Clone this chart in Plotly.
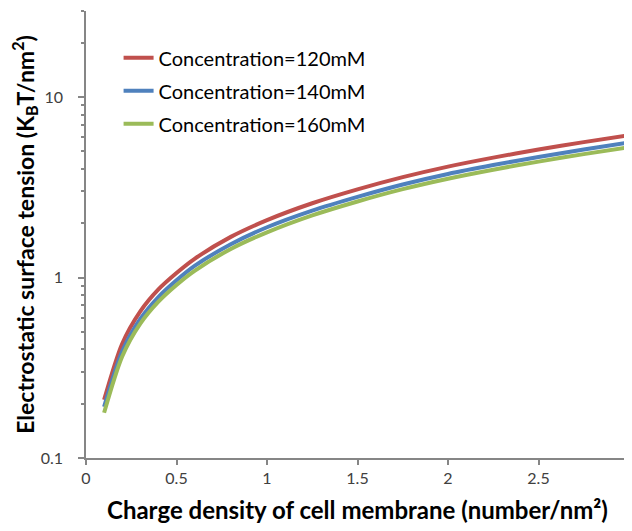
import plotly.graph_objects as go

charge_density = [0.1, 0.2, 0.3, 0.4, 0.5, 0.6, 0.8, 1.0, 1.25, 1.5, 1.75, 2.0, 2.25, 2.5, 2.75, 3.0]
tension_120mM = [0.21, 0.43, 0.65, 0.86, 1.06, 1.27, 1.68, 2.08, 2.58, 3.08, 3.6, 4.12, 4.62, 5.12, 5.63, 6.15]
tension_140mM = [0.192, 0.39, 0.59, 0.78, 0.965, 1.16, 1.53, 1.9, 2.35, 2.8, 3.28, 3.75, 4.2, 4.66, 5.12, 5.6]
tension_160mM = [0.178, 0.365, 0.555, 0.735, 0.91, 1.09, 1.44, 1.78, 2.21, 2.64, 3.09, 3.53, 3.96, 4.39, 4.83, 5.28]

series_names = ["Concentration=120mM", "Concentration=140mM", "Concentration=160mM"]
series_colors = ["#C0504D", "#4F81BD", "#9BBB59"]

x_ticks = [0, 0.5, 1, 1.5, 2, 2.5, 3]
x_tick_labels = ["0", "0.5", "1", "1.5", "2", "2.5", "3"]
y_ticks = [0.1, 1, 10]
y_tick_labels = ["0.1", "1", "10"]
y_minor = [0.2, 0.3, 0.4, 0.5, 0.6, 0.7, 0.8, 0.9, 2, 3, 4, 5, 6, 7, 8, 9, 20, 30]

FONT = "Lato, 'Open Sans', sans-serif"

fig = go.Figure()
for name, ys, col in zip(series_names, [tension_120mM, tension_140mM, tension_160mM], series_colors):
    fig.add_trace(go.Scatter(
        x=charge_density, y=ys, mode="lines", name=name, legendgroup=name,
        line=dict(color=col, width=4, shape="spline", smoothing=0.8),
    ))

axis_col = "#868686"
fig.update_layout(
    width=624, height=523,
    paper_bgcolor="white", plot_bgcolor="white",
    margin=dict(l=78, r=3, t=3, b=73),
    font=dict(family=FONT, color="#000000"),
    showlegend=True,
    legend=dict(
        x=0.06, y=0.939, xanchor="left", yanchor="top",
        bgcolor="rgba(0,0,0,0)", borderwidth=0,
        font=dict(size=20, family=FONT, color="#000000"),
        tracegroupgap=4,
    ),
    xaxis=dict(
        range=[0, 3], tickvals=x_ticks, ticktext=x_tick_labels, automargin=False,
        ticklabeloverflow="allow",
        showgrid=False, zeroline=False, showline=True, linecolor=axis_col, linewidth=1.5,
        ticks="outside", ticklen=5, tickcolor=axis_col, tickwidth=1.5,
        tickfont=dict(size=16, color="#404040", family=FONT),
        title=dict(text="<b>Charge density of cell membrane (number/nm²)</b>",
                   font=dict(size=24, color="#000000", family=FONT), standoff=16),
    ),
    yaxis=dict(
        type="log", range=[-1, 1.477], tickvals=y_ticks, ticktext=y_tick_labels, automargin=False,
        showgrid=False, zeroline=False, showline=True, linecolor=axis_col, linewidth=1.5,
        ticks="outside", ticklen=6, tickcolor=axis_col, tickwidth=1.5, ticklabelstandoff=12,
        tickfont=dict(size=16, color="#404040", family=FONT),
        minor=dict(tickvals=y_minor, ticks="outside", ticklen=3, tickcolor=axis_col, tickwidth=1.5, showgrid=False),
        title=dict(text="<b>Electrostatic surface tension (K<sub>B</sub>T/nm<sup>2</sup>)</b>",
                   font=dict(size=23, color="#000000", family=FONT), standoff=6),
    ),
)

fig.write_html("out.html")
